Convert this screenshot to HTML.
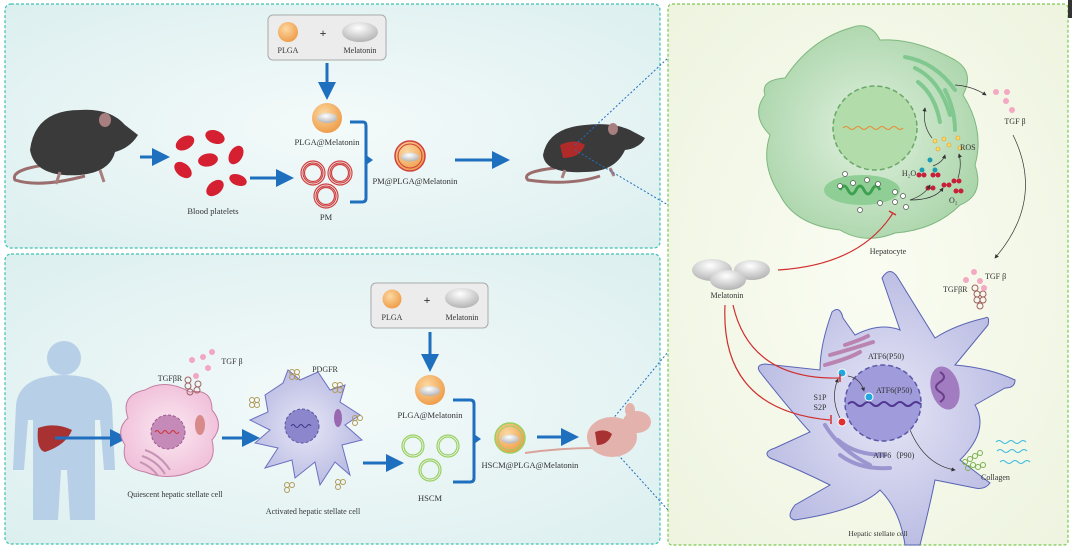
<!DOCTYPE html>
<html><head><meta charset="utf-8"><style>
html,body{margin:0;padding:0;background:#fff;}
svg{display:block;font-family:"Liberation Serif",serif;}
</style></head><body>
<svg width="1072" height="549" viewBox="0 0 1072 549" xmlns="http://www.w3.org/2000/svg">
<defs>
<radialGradient id="bgL" cx="0.5" cy="0.5" r="0.7"><stop offset="0" stop-color="#f4fafa"/><stop offset="1" stop-color="#dcefef"/></radialGradient>
<radialGradient id="bgR" cx="0.5" cy="0.5" r="0.7"><stop offset="0" stop-color="#fafcf2"/><stop offset="1" stop-color="#eef4e0"/></radialGradient>
<radialGradient id="org" cx="0.4" cy="0.35" r="0.7"><stop offset="0" stop-color="#fcd9a3"/><stop offset="1" stop-color="#ee9a45"/></radialGradient>
<radialGradient id="pill" cx="0.45" cy="0.3" r="0.8"><stop offset="0" stop-color="#ffffff"/><stop offset="1" stop-color="#a9a9a9"/></radialGradient>
<radialGradient id="hep" cx="0.5" cy="0.5" r="0.6"><stop offset="0" stop-color="#e1f1df"/><stop offset="1" stop-color="#a6d3a6"/></radialGradient>
<radialGradient id="hsc" cx="0.5" cy="0.5" r="0.6"><stop offset="0" stop-color="#e6e6f6"/><stop offset="1" stop-color="#b4b6e0"/></radialGradient>
<radialGradient id="qsc" cx="0.5" cy="0.5" r="0.6"><stop offset="0" stop-color="#fbe9f2"/><stop offset="1" stop-color="#efbbd7"/></radialGradient>
<marker id="ab" markerWidth="6" markerHeight="6" refX="4" refY="3" orient="auto"><path d="M0,0 L6,3 L0,6 Z" fill="#1f6fbf"/></marker>
<marker id="ak" markerWidth="6" markerHeight="6" refX="5" refY="3" orient="auto"><path d="M0,0 L6,3 L0,6 Z" fill="#333"/></marker>
</defs>

<rect x="5" y="4" width="655" height="244" rx="6" fill="url(#bgL)" stroke="#40c0b0" stroke-width="1.2" stroke-dasharray="3,2"/>
<rect x="5" y="254" width="655" height="290" rx="6" fill="url(#bgL)" stroke="#40c0b0" stroke-width="1.2" stroke-dasharray="3,2"/>
<rect x="668" y="4" width="400" height="541" rx="4" fill="url(#bgR)" stroke="#7cc850" stroke-width="1.2" stroke-dasharray="3,2"/>
<rect x="1068" y="0" width="4" height="18" fill="#333"/>

<!-- black mouse -->
<g>
<path d="M45,165 Q10,170 15,180 Q40,188 85,176" stroke="#9b6d6d" stroke-width="3" fill="none"/>
<path d="M30,150 Q35,110 80,110 Q110,108 125,125 L138,135 Q130,148 115,152 Q110,172 80,175 Q35,178 30,150 Z" fill="#3a3a3a"/>
<ellipse cx="105" cy="120" rx="6" ry="7" fill="#a87f7f"/>
<path d="M60,172 l-4,12 M100,170 l4,12" stroke="#a87f7f" stroke-width="3"/>
</g>
<line x1="140" y1="157" x2="164" y2="157" stroke="#1f6fbf" stroke-width="3" marker-end="url(#ab)"/>
<g fill="#d42030">
<ellipse cx="185" cy="143" rx="10" ry="6.5" transform="rotate(-30 185 143)"/>
<ellipse cx="215" cy="137" rx="10" ry="6.5" transform="rotate(20 215 137)"/>
<ellipse cx="208" cy="160" rx="10" ry="6.5" transform="rotate(-10 208 160)"/>
<ellipse cx="236" cy="155" rx="10" ry="6.5" transform="rotate(-60 236 155)"/>
<ellipse cx="183" cy="170" rx="10" ry="6.5" transform="rotate(40 183 170)"/>
<ellipse cx="215" cy="188" rx="10" ry="6.5" transform="rotate(-40 215 188)"/>
<ellipse cx="238" cy="180" rx="9" ry="5.5" transform="rotate(20 238 180)"/>
</g>
<text x="213" y="214" font-size="8.5" text-anchor="middle" fill="#333">Blood platelets</text>
<line x1="250" y1="178" x2="288" y2="178" stroke="#1f6fbf" stroke-width="3" marker-end="url(#ab)"/>

<rect x="268" y="15" width="118" height="45" rx="5" fill="#ececec" stroke="#aaa"/>
<circle cx="288" cy="32" r="10" fill="url(#org)"/>
<text x="288" y="53" font-size="8" text-anchor="middle" fill="#333">PLGA</text>
<text x="323" y="37" font-size="12" text-anchor="middle" font-weight="bold" fill="#333">+</text>
<ellipse cx="360" cy="32" rx="18" ry="10" fill="url(#pill)"/>
<text x="360" y="53" font-size="8" text-anchor="middle" fill="#333">Melatonin</text>
<line x1="327" y1="63" x2="327" y2="94" stroke="#1f6fbf" stroke-width="3" marker-end="url(#ab)"/>
<circle cx="327" cy="118" r="15" fill="url(#org)"/>
<ellipse cx="327" cy="118" rx="10" ry="5" fill="url(#pill)"/>
<text x="327" y="145" font-size="8.5" text-anchor="middle" fill="#333">PLGA@Melatonin</text>
<g fill="none" stroke="#d04040" stroke-width="1.2">
<circle cx="313" cy="173" r="12"/><circle cx="313" cy="173" r="10"/><circle cx="313" cy="173" r="8.5"/>
<circle cx="340" cy="173" r="12"/><circle cx="340" cy="173" r="10"/><circle cx="340" cy="173" r="8.5"/>
<circle cx="326" cy="196" r="12"/><circle cx="326" cy="196" r="10"/><circle cx="326" cy="196" r="8.5"/>
</g>
<text x="326" y="220" font-size="8.5" text-anchor="middle" fill="#333">PM</text>
<path d="M350,122 H363 Q366,122 366,126 V198 Q366,202 362,202 H350" stroke="#1f6fbf" stroke-width="3" fill="none"/>
<path d="M366,155 L373,160 L366,165 Z" fill="#1f6fbf"/>
<circle cx="410" cy="156" r="15" fill="url(#org)" stroke="#d04040" stroke-width="1.5"/>
<circle cx="410" cy="156" r="12" fill="none" stroke="#d04040" stroke-width="1"/>
<ellipse cx="410" cy="157" rx="9" ry="4.5" fill="url(#pill)"/>
<text x="415" y="184" font-size="8.5" text-anchor="middle" fill="#333">PM@PLGA@Melatonin</text>
<line x1="455" y1="160" x2="504" y2="160" stroke="#1f6fbf" stroke-width="3" marker-end="url(#ab)"/>
<g>
<path d="M555,168 Q520,172 528,180 Q570,186 600,176" stroke="#9b6d6d" stroke-width="3" fill="none"/>
<path d="M543,155 Q548,128 585,125 Q612,122 630,130 L645,138 Q640,148 625,150 Q615,172 585,172 Q545,174 543,155 Z" fill="#3a3a3a"/>
<ellipse cx="613" cy="129" rx="5" ry="6" fill="#a87f7f"/>
<path d="M560,145 Q575,138 585,145 Q580,158 563,158 Z" fill="#b02a2a"/>
<path d="M565,170 l-3,8 M610,168 l4,8" stroke="#a87f7f" stroke-width="3"/>
</g>
<g stroke="#1f6fbf" stroke-width="1" stroke-dasharray="2,2" fill="none">
<line x1="575" y1="145" x2="668" y2="58"/>
<line x1="575" y1="150" x2="668" y2="205"/>
<line x1="602" y1="432" x2="668" y2="352"/>
<line x1="602" y1="437" x2="668" y2="510"/>
</g>

<!-- human -->
<g fill="#b8cfe8">
<circle cx="64" cy="358" r="17"/>
<path d="M40,378 Q64,372 88,378 Q110,385 112,405 L115,470 L104,470 L100,420 L95,420 L95,520 L70,520 L67,470 L61,470 L58,520 L33,520 L33,420 L28,420 L24,470 L13,470 L16,405 Q18,385 40,378 Z"/>
</g>
<path d="M38,428 Q55,422 72,430 Q66,445 45,452 Q36,450 38,428 Z" fill="#a83232"/>
<line x1="55" y1="438" x2="122" y2="438" stroke="#1f6fbf" stroke-width="3" marker-end="url(#ab)"/>
<path d="M128,418 Q120,395 145,390 Q165,378 190,392 Q212,388 212,410 Q225,425 212,440 Q218,465 195,470 Q170,482 145,472 Q120,468 125,445 Q115,430 128,418 Z" fill="url(#qsc)" stroke="#c47ea3" stroke-width="1"/>
<circle cx="168" cy="432" r="17" fill="#c58ab7" stroke="#9a5a90" stroke-dasharray="3,2"/>
<path d="M155,432 q2,-3 4,0 q2,3 4,0 q2,-3 4,0 q2,3 4,0 q2,-3 4,0 q2,3 4,0" stroke="#d03030" fill="none"/>
<ellipse cx="200" cy="425" rx="5" ry="10" fill="#d88a8a"/>
<path d="M145,450 q15,5 25,20 M142,456 q15,5 23,18 M140,462 q12,5 18,14" stroke="#c593b4" stroke-width="2" fill="none"/>
<g fill="none" stroke="#a06060"><circle cx="188" cy="380" r="3"/><circle cx="188" cy="386" r="3"/><circle cx="190" cy="392" r="3"/><circle cx="198" cy="384" r="3"/><circle cx="197" cy="390" r="3"/></g>
<g fill="#f2a6c2"><circle cx="192" cy="360" r="3"/><circle cx="203" cy="357" r="3"/><circle cx="212" cy="352" r="3"/><circle cx="208" cy="368" r="3"/><circle cx="196" cy="376" r="3"/></g>
<text x="170" y="381" font-size="8" text-anchor="middle" fill="#333">TGFβR</text>
<text x="232" y="364" font-size="8" text-anchor="middle" fill="#333">TGF β</text>
<text x="175" y="497" font-size="8" text-anchor="middle" fill="#333">Quiescent hepatic stellate cell</text>
<line x1="222" y1="438" x2="254" y2="438" stroke="#1f6fbf" stroke-width="3" marker-end="url(#ab)"/>
<path d="M265,395 L283,383 L288,370 L300,380 L318,372 L330,390 L345,385 L340,402 L360,415 L345,425 L362,440 L342,445 L350,475 L335,462 L320,485 L315,462 L295,478 L292,460 L265,468 L278,448 L255,443 L270,430 L250,420 L268,412 Z" fill="url(#hsc)" stroke="#6a70c0" stroke-width="1"/>
<circle cx="302" cy="426" r="17" fill="#8c86cc" stroke="#5a58a0" stroke-dasharray="3,2"/>
<path d="M291,426 q2,-3 4,0 q2,3 4,0 q2,-3 4,0 q2,3 4,0 q2,-3 4,0" stroke="#3a3888" fill="none"/>
<ellipse cx="338" cy="418" rx="4" ry="9" fill="#9a68b0"/>
<g fill="none" stroke="#b09a58" stroke-width="1">
<circle cx="292" cy="372" r="2.5"/><circle cx="297" cy="372" r="2.5"/><circle cx="292" cy="377" r="2.5"/><circle cx="297" cy="377" r="2.5"/>
<circle cx="335" cy="385" r="2.5"/><circle cx="340" cy="385" r="2.5"/><circle cx="335" cy="390" r="2.5"/><circle cx="340" cy="390" r="2.5"/>
<circle cx="252" cy="400" r="2.5"/><circle cx="257" cy="400" r="2.5"/><circle cx="252" cy="405" r="2.5"/><circle cx="257" cy="405" r="2.5"/>
<circle cx="355" cy="418" r="2.5"/><circle cx="360" cy="418" r="2.5"/><circle cx="355" cy="423" r="2.5"/>
<circle cx="287" cy="485" r="2.5"/><circle cx="292" cy="485" r="2.5"/><circle cx="287" cy="490" r="2.5"/>
<circle cx="338" cy="482" r="2.5"/><circle cx="343" cy="482" r="2.5"/><circle cx="338" cy="487" r="2.5"/>
</g>
<text x="325" y="372" font-size="8" text-anchor="middle" fill="#333">PDGFR</text>
<text x="313" y="514" font-size="8" text-anchor="middle" fill="#333">Activated hepatic stellate cell</text>
<line x1="363" y1="463" x2="398" y2="463" stroke="#1f6fbf" stroke-width="3" marker-end="url(#ab)"/>

<rect x="371" y="283" width="117" height="45" rx="5" fill="#ececec" stroke="#aaa"/>
<circle cx="392" cy="299" r="9.5" fill="url(#org)"/>
<text x="392" y="320" font-size="8" text-anchor="middle" fill="#333">PLGA</text>
<text x="427" y="304" font-size="12" text-anchor="middle" font-weight="bold" fill="#333">+</text>
<ellipse cx="462" cy="298" rx="17" ry="10" fill="url(#pill)"/>
<text x="462" y="320" font-size="8" text-anchor="middle" fill="#333">Melatonin</text>
<line x1="430" y1="332" x2="430" y2="366" stroke="#1f6fbf" stroke-width="3" marker-end="url(#ab)"/>
<circle cx="430" cy="390" r="15" fill="url(#org)"/>
<ellipse cx="430" cy="391" rx="10" ry="5" fill="url(#pill)"/>
<text x="430" y="418" font-size="8.5" text-anchor="middle" fill="#333">PLGA@Melatonin</text>
<g fill="none" stroke="#9ad060" stroke-width="1.2">
<circle cx="413" cy="446" r="11"/><circle cx="413" cy="446" r="9"/>
<circle cx="448" cy="446" r="11"/><circle cx="448" cy="446" r="9"/>
<circle cx="430" cy="470" r="11"/><circle cx="430" cy="470" r="9"/>
</g>
<text x="430" y="501" font-size="8.5" text-anchor="middle" fill="#333">HSCM</text>
<path d="M453,400 H470 Q474,400 474,404 V478 Q474,482 470,482 H453" stroke="#1f6fbf" stroke-width="3" fill="none"/>
<path d="M474,434 L481,439 L474,444 Z" fill="#1f6fbf"/>
<circle cx="510" cy="438" r="15" fill="url(#org)" stroke="#9ad060" stroke-width="1.5"/>
<circle cx="510" cy="438" r="12" fill="none" stroke="#9ad060" stroke-width="1"/>
<ellipse cx="510" cy="439" rx="9" ry="4.5" fill="url(#pill)"/>
<text x="530" y="468" font-size="8.5" text-anchor="middle" fill="#333">HSCM@PLGA@Melatonin</text>
<line x1="537" y1="437" x2="573" y2="437" stroke="#1f6fbf" stroke-width="3" marker-end="url(#ab)"/>
<g fill="#e4b2ac">
<path d="M525,453 Q560,448 595,448" stroke="#d9a39c" stroke-width="2" fill="none"/>
<ellipse cx="612" cy="437" rx="25" ry="20"/>
<ellipse cx="637" cy="422" rx="14" ry="11"/>
<ellipse cx="630" cy="410" rx="5" ry="7"/>
<path d="M595,432 Q605,428 612,434 Q608,445 597,445 Z" fill="#a83232"/>
</g>

<!-- hepatocyte -->
<path d="M765,95 Q760,80 785,78 Q810,40 850,28 Q870,20 880,40 Q915,38 955,60 Q975,72 963,95 Q985,130 975,165 Q985,195 960,205 Q935,230 895,233 Q865,245 840,230 Q795,225 780,195 Q760,165 770,135 Q750,115 765,95 Z" fill="url(#hep)" stroke="#7fb77f" stroke-width="1"/>
<circle cx="875" cy="128" r="42" fill="#b2dcaa" stroke="#6aa86a" stroke-width="1.5" stroke-dasharray="5,3"/>
<path d="M843,128 q3,-3 6,0 q3,3 6,0 q3,-3 6,0 q3,3 6,0 q3,-3 6,0 q3,3 6,0 q3,-3 6,0 q3,3 6,0 q3,-3 6,0 q3,3 6,0" stroke="#e88a30" fill="none"/>
<g stroke="#80c890" stroke-width="4" fill="none" stroke-linecap="round">
<path d="M905,57 Q935,62 955,90"/><path d="M915,68 Q940,80 950,115"/><path d="M918,82 Q935,95 940,122"/><path d="M945,90 Q955,110 955,130"/>
</g>
<ellipse cx="862" cy="190" rx="38" ry="15" fill="#8fcf95"/>
<path d="M840,190 q4,-8 8,0 q4,8 8,0 q4,-8 8,0 q4,8 8,0 q4,-8 8,0" stroke="#3fa050" stroke-width="3" fill="none"/>
<g fill="#fff" stroke="#555" stroke-width="0.7">
<circle cx="845" cy="174" r="2.5"/><circle cx="853" cy="183" r="2.5"/><circle cx="878" cy="184" r="2.5"/><circle cx="867" cy="180" r="2.5"/><circle cx="840" cy="186" r="2.5"/><circle cx="860" cy="210" r="2.5"/><circle cx="880" cy="203" r="2.5"/><circle cx="895" cy="192" r="2.5"/><circle cx="895" cy="202" r="2.5"/><circle cx="903" cy="196" r="2.5"/><circle cx="906" cy="207" r="2.5"/>
</g>
<g fill="#c8203a"><circle cx="919" cy="175" r="2.5"/><circle cx="924" cy="175" r="2.5"/><circle cx="933" cy="175" r="2.5"/><circle cx="938" cy="175" r="2.5"/><circle cx="928" cy="188" r="2.5"/><circle cx="933" cy="188" r="2.5"/><circle cx="954" cy="181" r="2.5"/><circle cx="959" cy="181" r="2.5"/><circle cx="956" cy="191" r="2.5"/><circle cx="961" cy="191" r="2.5"/><circle cx="944" cy="185" r="2.5"/><circle cx="949" cy="185" r="2.5"/></g>
<g fill="#1d9db0"><circle cx="922" cy="170" r="2.5"/><circle cx="935" cy="170" r="2.5"/><circle cx="930" cy="160" r="2.5"/></g>
<g fill="#fbd96a" stroke="#e09a20" stroke-width="0.6"><circle cx="935" cy="141" r="2"/><circle cx="944" cy="139" r="2"/><circle cx="938" cy="149" r="2"/><circle cx="949" cy="145" r="2"/><circle cx="958" cy="138" r="2"/><circle cx="960" cy="148" r="2"/></g>
<text x="960" y="150" font-size="8" fill="#333">ROS</text>
<text x="909" y="176" font-size="8" fill="#333" text-anchor="middle">H₂O</text>
<text x="949" y="203" font-size="8" fill="#333">O₂</text>
<g stroke="#333" stroke-width="0.7" fill="none">
<path d="M910,200 Q925,195 930,185" marker-end="url(#ak)"/><path d="M910,200 Q935,200 943,188" marker-end="url(#ak)"/>
<path d="M933,166 Q943,162 945,155" marker-end="url(#ak)"/><path d="M958,178 Q962,165 959,154" marker-end="url(#ak)"/>
<path d="M932,138 Q922,125 925,108" marker-end="url(#ak)"/>
<path d="M955,85 Q972,86 986,95" marker-end="url(#ak)"/>
<path d="M1013,135 Q1045,200 995,258" marker-end="url(#ak)"/>
</g>
<g fill="#f4a8c2"><circle cx="996" cy="92" r="3"/><circle cx="1007" cy="92" r="3"/><circle cx="1006" cy="101" r="3"/><circle cx="1012" cy="110" r="3"/></g>
<text x="1015" y="124" font-size="8" fill="#333" text-anchor="middle">TGF β</text>
<text x="888" y="254" font-size="8" fill="#333" text-anchor="middle">Hepatocyte</text>
<ellipse cx="712" cy="270" rx="20" ry="11" fill="url(#pill)"/>
<ellipse cx="752" cy="270" rx="18" ry="10" fill="url(#pill)"/>
<ellipse cx="728" cy="280" rx="18" ry="10" fill="url(#pill)"/>
<text x="727" y="298" font-size="8" fill="#333" text-anchor="middle">Melatonin</text>
<path d="M778,270 Q860,265 893,213" stroke="#d03030" stroke-width="1.2" fill="none"/>
<line x1="889" y1="211" x2="896" y2="215" stroke="#d03030" stroke-width="1.5"/>
<!-- HSC -->
<path d="M832,312 Q840,305 843,318 L855,335 Q880,322 900,330 L882,278 Q890,265 898,278 L935,338 Q955,325 985,318 Q990,315 988,325 L955,365 Q990,368 1015,380 Q1015,388 1005,388 L975,405 Q990,430 960,460 L990,483 Q985,490 975,488 L935,480 Q930,505 920,545 L905,545 Q900,510 880,490 Q860,510 795,520 Q785,518 795,505 L830,485 Q800,470 770,458 Q762,452 775,448 L810,432 Q790,410 760,372 Q755,365 765,364 L820,370 Q820,345 832,312 Z" fill="url(#hsc)" stroke="#5a64b4" stroke-width="1"/>
<circle cx="883" cy="403" r="38" fill="#a09cdc" stroke="#5a58a8" stroke-width="1.5" stroke-dasharray="5,3"/>
<path d="M848,404 q4,-4 8,0 q4,4 8,0 q4,-4 8,0 q4,4 8,0 q4,-4 8,0 q4,4 8,0 q4,-4 8,0 q4,4 8,0 q4,-4 8,0" stroke="#503890" stroke-width="2" fill="none"/>
<ellipse cx="945" cy="388" rx="14" ry="22" fill="#a27cc0" transform="rotate(-15 945 388)"/>
<path d="M940,372 q8,5 0,10 q-8,5 0,10 q8,5 0,10" stroke="#6a3e8a" stroke-width="2" fill="none"/>
<g stroke="#b985b0" stroke-width="4" fill="none" stroke-linecap="round"><path d="M845,345 Q860,340 868,336"/><path d="M830,355 Q855,348 873,342"/><path d="M825,365 Q850,358 860,352"/></g>
<g stroke="#9b96d0" stroke-width="4" fill="none" stroke-linecap="round"><path d="M825,425 Q840,450 870,465"/><path d="M838,440 Q855,455 885,455"/><path d="M840,455 Q860,470 890,468"/></g>
<circle cx="842" cy="373" r="4" fill="#22a8e0" stroke="#fff"/>
<circle cx="869" cy="397" r="4" fill="#22a8e0" stroke="#fff"/>
<circle cx="842" cy="422" r="4" fill="#e03030" stroke="#fff"/>
<path d="M840,418 Q830,398 838,379" stroke="#333" stroke-width="0.7" fill="none" marker-end="url(#ak)"/>
<path d="M848,376 Q860,378 864,391" stroke="#333" stroke-width="0.7" fill="none" marker-end="url(#ak)"/>
<path d="M910,430 Q925,465 955,470" stroke="#333" stroke-width="0.7" fill="none" marker-end="url(#ak)"/>
<path d="M733,305 Q750,380 840,378" stroke="#d03030" stroke-width="1.2" fill="none"/>
<line x1="840" y1="374" x2="840" y2="382" stroke="#d03030" stroke-width="1.5"/>
<path d="M725,305 Q720,410 830,420" stroke="#d03030" stroke-width="1.2" fill="none"/>
<line x1="831" y1="415" x2="831" y2="424" stroke="#d03030" stroke-width="1.5"/>
<text x="868" y="359" font-size="8" fill="#333">ATF6(P50)</text>
<text x="876" y="393" font-size="8" fill="#333">ATF6(P50)</text>
<text x="820" y="400" font-size="8" fill="#333" text-anchor="middle">S1P</text>
<text x="820" y="410" font-size="8" fill="#333" text-anchor="middle">S2P</text>
<text x="873" y="458" font-size="8" fill="#333">ATF6（P90)</text>
<g fill="none" stroke="#7ab050"><circle cx="965" cy="462" r="2.5"/><circle cx="970" cy="459" r="2.5"/><circle cx="975" cy="456" r="2.5"/><circle cx="980" cy="453" r="2.5"/><circle cx="968" cy="468" r="2.5"/><circle cx="973" cy="465" r="2.5"/><circle cx="978" cy="467" r="2.5"/><circle cx="983" cy="465" r="2.5"/></g>
<g stroke="#3ab8e0" fill="none" stroke-width="1"><path d="M996,442 q3,-3 6,0 q3,3 6,0 q3,-3 6,0 q3,3 6,0 q3,-3 6,0"/><path d="M997,451 q3,-3 6,0 q3,3 6,0 q3,-3 6,0 q3,3 6,0 q3,-3 6,0"/><path d="M1000,462 q3,-3 6,0 q3,3 6,0 q3,-3 6,0 q3,3 6,0 q3,-3 6,0"/></g>
<text x="981" y="480" font-size="8" fill="#333">Collagen</text>
<g fill="none" stroke="#a06060"><circle cx="975" cy="288" r="3"/><circle cx="977" cy="294" r="3"/><circle cx="983" cy="294" r="3"/><circle cx="977" cy="300" r="3"/><circle cx="983" cy="300" r="3"/><circle cx="980" cy="306" r="3"/></g>
<g fill="#f4a8c2"><circle cx="966" cy="280" r="3"/><circle cx="974" cy="272" r="3"/><circle cx="980" cy="281" r="3"/><circle cx="984" cy="288" r="3"/></g>
<text x="985" y="279" font-size="8" fill="#333">TGF β</text>
<text x="943" y="292" font-size="8" fill="#333">TGFβR</text>
<text x="878" y="536" font-size="7.5" fill="#333" text-anchor="middle">Hepatic stellate cell</text>
</svg>
</body></html>
